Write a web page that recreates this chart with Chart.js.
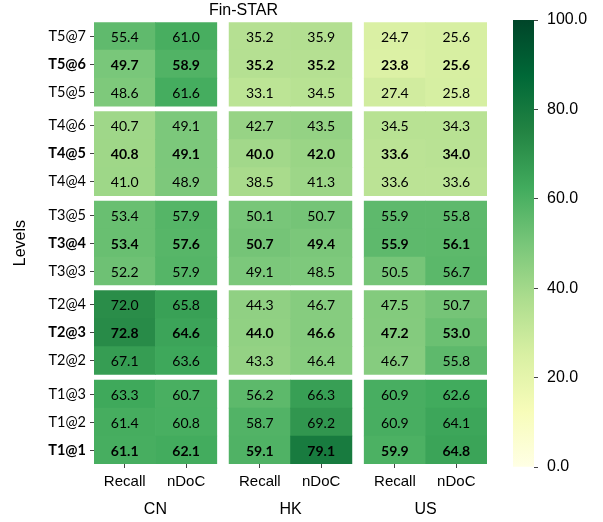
<!DOCTYPE html>
<html>
<head>
<meta charset="utf-8">
<script src="https://cdn.jsdelivr.net/npm/chart.js@4"></script>
<style>
    body { margin: 0; background: #fff; }
    #wrap { position: relative; width: 603px; height: 522px; }
    #main-box { position: absolute; left: 0; top: 0; width: 500px; height: 522px; }
    #bar-box { position: absolute; left: 500px; top: 0; width: 103px; height: 522px; }
</style>
</head>
<body>
<div id="wrap">
    <div id="main-box"><canvas id="heatmap"></canvas></div>
    <div id="bar-box"><canvas id="colorbar"></canvas></div>
</div>
<script>
// Data
const levels = ['T5@7', 'T5@6', 'T5@5', 'T4@6', 'T4@5', 'T4@4', 'T3@5', 'T3@4', 'T3@3',
                'T2@4', 'T2@3', 'T2@2', 'T1@3', 'T1@2', 'T1@1'];
const boldLevels = ['T5@6', 'T4@5', 'T3@4', 'T2@3', 'T1@1'];
const regions = ['CN', 'HK', 'US'];
const metrics = ['Recall', 'nDoC'];

const cnRecall = [55.4, 49.7, 48.6, 40.7, 40.8, 41.0, 53.4, 53.4, 52.2, 72.0, 72.8, 67.1, 63.3, 61.4, 61.1];
const cnNdoc   = [61.0, 58.9, 61.6, 49.1, 49.1, 48.9, 57.9, 57.6, 57.9, 65.8, 64.6, 63.6, 60.7, 60.8, 62.1];
const hkRecall = [35.2, 35.2, 33.1, 42.7, 40.0, 38.5, 50.1, 50.7, 49.1, 44.3, 44.0, 43.3, 56.2, 58.7, 59.1];
const hkNdoc   = [35.9, 35.2, 34.5, 43.5, 42.0, 41.3, 50.7, 49.4, 48.5, 46.7, 46.6, 46.4, 66.3, 69.2, 79.1];
const usRecall = [24.7, 23.8, 27.4, 34.5, 33.6, 33.6, 55.9, 55.9, 50.5, 47.5, 47.2, 46.7, 60.9, 60.9, 59.9];
const usNdoc   = [25.6, 25.6, 25.8, 34.3, 34.0, 33.6, 55.8, 56.1, 56.7, 50.7, 53.0, 55.8, 62.6, 64.1, 64.8];

const colorTicks = [0, 20, 40, 60, 80, 100];

// YlGn colormap stops
const ylgn = ['#ffffe5', '#f7fcb9', '#d9f0a3', '#addd8e', '#78c679', '#41ab5d', '#238443', '#006837', '#004529'];

function hexRgb(h) {
    return [parseInt(h.slice(1, 3), 16), parseInt(h.slice(3, 5), 16), parseInt(h.slice(5, 7), 16)];
}
function colorFor(v) {
    const t = Math.max(0, Math.min(1, v / 100)) * (ylgn.length - 1);
    const i = Math.min(Math.floor(t), ylgn.length - 2);
    const f = t - i;
    const a = hexRgb(ylgn[i]), b = hexRgb(ylgn[i + 1]);
    const c = a.map((x, k) => Math.round(x + (b[k] - x) * f));
    return `rgb(${c[0]},${c[1]},${c[2]})`;
}

// Grid layout: blocks of 3 rows / 2 columns separated by small gaps
const rowGap = 0.2, colGap = 0.2;
const columns = [cnRecall, cnNdoc, hkRecall, hkNdoc, usRecall, usNdoc];
const rowPos = levels.map((_, i) => i + Math.floor(i / 3) * rowGap);
const colStart = columns.map((_, c) => c + Math.floor(c / 2) * colGap);
const colCenters = colStart.map(s => s + 0.5);
const groupCenters = regions.map((_, g) => (colStart[g * 2] + colStart[g * 2 + 1] + 1) / 2);
const xMax = colStart[colStart.length - 1] + 1;
const yMax = rowPos[rowPos.length - 1] + 0.5;

const cells = [];
columns.forEach((vals, c) => {
    vals.forEach((v, r) => {
        cells.push({ x: [colStart[c], colStart[c] + 1], y: rowPos[r], v: v, bold: boldLevels.includes(levels[r]) });
    });
});

const cellFont = "Lato, 'DejaVu Sans', sans-serif";
const axisFont = "'Liberation Sans', Arial, sans-serif";

const cellLabels = {
    id: 'cellLabels',
    afterDatasetsDraw(chart) {
        const ctx = chart.ctx;
        const meta = chart.getDatasetMeta(0);
        ctx.save();
        ctx.textAlign = 'center';
        ctx.textBaseline = 'middle';
        ctx.fillStyle = '#000';
        meta.data.forEach((bar, i) => {
            const d = cells[i];
            const p = bar.getCenterPoint();
            ctx.font = (d.bold ? 'bold ' : '') + '14px ' + cellFont;
            ctx.fillText(d.v.toFixed(1), p.x, p.y + 1);
        });
        ctx.restore();
    }
};

new Chart(document.getElementById('heatmap'), {
    type: 'bar',
    data: {
        datasets: [{
            data: cells,
            backgroundColor: ctx => ctx.raw ? colorFor(ctx.raw.v) : '#fff',
            borderWidth: 0,
            barPercentage: 1,
            categoryPercentage: 1
        }]
    },
    options: {
        indexAxis: 'y',
        responsive: true,
        maintainAspectRatio: false,
        animation: false,
        layout: { padding: { left: 0, right: 13, top: 0, bottom: 0 } },
        plugins: {
            legend: { display: false },
            tooltip: { enabled: false },
            title: {
                display: true,
                text: 'Fin-STAR',
                color: '#000',
                font: { family: axisFont, size: 16, weight: 'normal' },
                padding: { top: 1, bottom: 2 }
            }
        },
        scales: {
            y: {
                type: 'linear',
                reverse: true,
                offset: false,
                min: -0.5,
                max: yMax,
                afterBuildTicks: s => { s.ticks = rowPos.map(v => ({ value: v })); },
                afterFit: s => { s.width = 94; },
                ticks: {
                    autoSkip: false,
                    color: '#000',
                    padding: 4,
                    callback: (v, i) => levels[i],
                    font: ctx => ({
                        family: cellFont,
                        size: 14.5,
                        weight: boldLevels.includes(levels[ctx.index]) ? 'bold' : 'normal'
                    })
                },
                grid: { offset: false, drawOnChartArea: false, drawTicks: true, tickLength: 4, color: '#444' },
                border: { display: false },
                title: {
                    display: true,
                    text: 'Levels',
                    color: '#000',
                    font: { family: axisFont, size: 16 },
                    padding: { top: 11, bottom: 0 }
                }
            },
            x: {
                type: 'linear',
                position: 'bottom',
                offset: false,
                min: 0,
                max: xMax,
                afterBuildTicks: s => { s.ticks = colCenters.map(v => ({ value: v })); },
                afterFit: s => { s.height = 28; },
                ticks: {
                    autoSkip: false,
                    maxRotation: 0,
                    color: '#000',
                    padding: 5,
                    callback: (v, i) => metrics[i % 2],
                    font: { family: axisFont, size: 15 }
                },
                grid: { drawOnChartArea: false, drawTicks: true, tickLength: 4, color: '#444' },
                border: { display: false }
            },
            x2: {
                type: 'linear',
                position: 'bottom',
                offset: false,
                min: 0,
                max: xMax,
                afterBuildTicks: s => { s.ticks = groupCenters.map(v => ({ value: v })); },
                afterFit: s => { s.height = 30; },
                ticks: {
                    autoSkip: false,
                    maxRotation: 0,
                    color: '#000',
                    padding: 0,
                    callback: (v, i) => regions[i],
                    font: { family: axisFont, size: 16 }
                },
                grid: { display: false },
                border: { display: false }
            }
        }
    },
    plugins: [cellLabels]
});

// Colorbar
new Chart(document.getElementById('colorbar'), {
    type: 'bar',
    data: {
        labels: [''],
        datasets: [{
            data: [[colorTicks[0], colorTicks[colorTicks.length - 1]]],
            borderWidth: 0,
            barPercentage: 1,
            categoryPercentage: 1,
            backgroundColor: ctx => {
                const chart = ctx.chart;
                const ys = chart.scales.y;
                if (!chart.chartArea || !ys) return ylgn[4];
                const g = chart.ctx.createLinearGradient(0, ys.getPixelForValue(0), 0, ys.getPixelForValue(100));
                ylgn.forEach((c, i) => g.addColorStop(i / (ylgn.length - 1), c));
                return g;
            }
        }]
    },
    options: {
        responsive: true,
        maintainAspectRatio: false,
        animation: false,
        layout: { padding: { left: 13, right: 0, top: 20, bottom: 55 } },
        plugins: { legend: { display: false }, tooltip: { enabled: false } },
        scales: {
            x: { display: false },
            y: {
                position: 'right',
                min: 0,
                max: 100,
                afterBuildTicks: s => { s.ticks = colorTicks.map(v => ({ value: v })); },
                afterFit: s => { s.width = 69; },
                ticks: {
                    color: '#000',
                    padding: 9,
                    callback: v => v.toFixed(1),
                    font: { family: axisFont, size: 16 }
                },
                grid: { drawOnChartArea: false, drawTicks: true, tickLength: 4, color: '#444' },
                border: { display: false }
            }
        }
    }
});
</script>
</body>
</html>
